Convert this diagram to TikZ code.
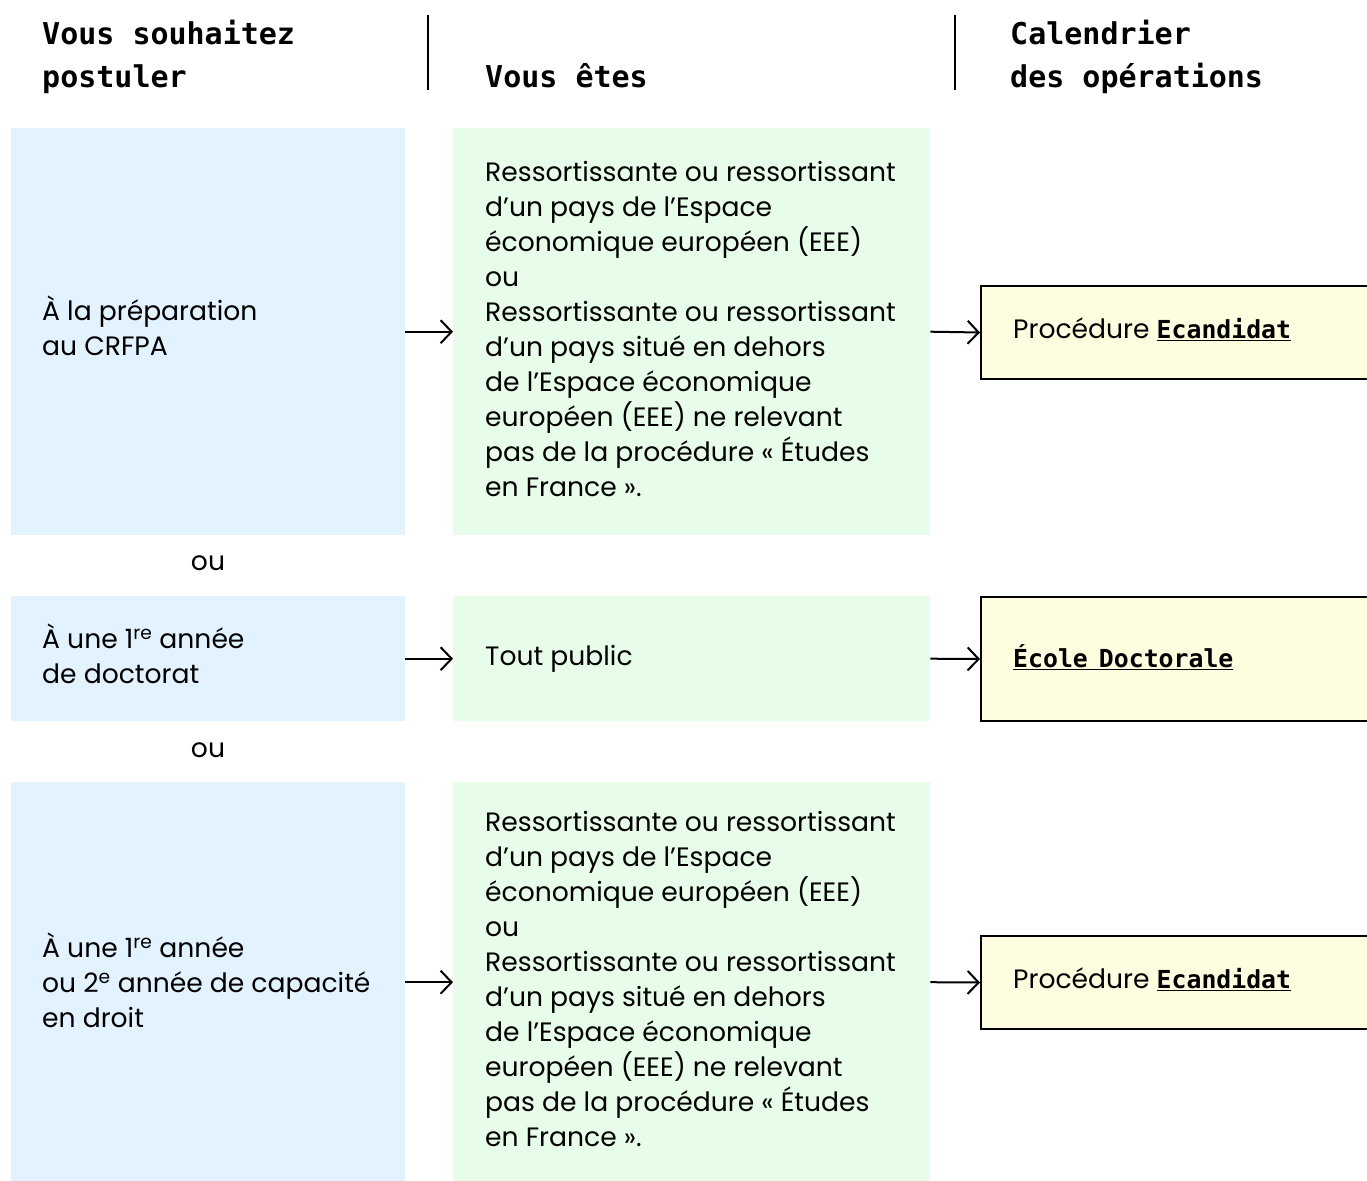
\documentclass[tikz,border=0pt]{standalone}
\usepackage{fontspec}
\setmainfont{Poppins}
\setmonofont{DejaVu Sans Mono}
\usetikzlibrary{arrows.meta}
\definecolor{cblue}{HTML}{E2F2FE}
\definecolor{cgreen}{HTML}{E8FDE9}
\definecolor{cyel}{HTML}{FFFDE0}
\tikzset{
  bluebox/.style={fill=cblue,draw=none,anchor=north west,inner sep=0pt,minimum width=394pt},
  greenbox/.style={fill=cgreen,draw=none,anchor=north west,inner sep=0pt,minimum width=477pt},
  yelbox/.style={fill=cyel,draw=black,line width=2pt,anchor=north west,inner sep=0pt,minimum width=420pt},
  txt/.style={anchor=west,align=left,inner sep=0pt,font=\fontsize{26.6}{35}\selectfont},
  hdr/.style={anchor=base west,inner sep=0pt,font=\fontsize{30}{43}\selectfont\ttfamily\bfseries},
  arr/.style={line width=2pt,-{Straight Barb[length=11pt,width=23pt,line width=2pt]}},
  sep/.style={line width=2pt}
}
\newcommand{\lk}[1]{{\ttfamily\bfseries\fontsize{24.8}{30}\selectfont\spaceskip=0.45em\underline{#1}}}
\begin{document}
\begin{tikzpicture}[x=1pt,y=-1pt]
\clip (0,0) rectangle (1367,1180);
\fill[white] (0,0) rectangle (1367,1180);
% headers
\node[hdr] (h1a) at (42,45) {Vous souhaitez};
\node[hdr] (h1b) at (42,88) {postuler};
\node[hdr] (h2) at (485,88) {Vous êtes};
\node[hdr] (h3a) at (1010,45) {Calendrier};
\node[hdr] (h3b) at (1010,88) {des opérations};
\draw[sep] (428,15) -- (428,90);
\draw[sep] (955,15) -- (955,90);
% row 1
\node[bluebox,minimum height=407pt] (b1) at (11,128) {};
\node[greenbox,minimum height=407pt] (g1) at (453,128) {};
\node[yelbox,minimum height=93pt] (y1) at (980,285) {};
\node[txt] (tb1) at ([xshift=31pt,yshift=6pt]b1.west) {À la préparation\\au CRFPA};
\node[txt] (tg1) at ([xshift=32pt,yshift=3pt]g1.west) {Ressortissante ou ressortissant\\d’un pays de l’Espace\\économique européen (EEE)\\ou\\Ressortissante ou ressortissant\\d’un pays situé en dehors\\de l’Espace économique\\européen (EEE) ne relevant\\pas de la procédure « Études\\en France ».};
\node[txt] (ty1) at ([xshift=33pt,yshift=3pt]y1.west) {Procédure \lk{Ecandidat}};
\draw[arr] (b1.east) -- (g1.west);
\draw[arr] (g1.east) -- (y1.west);
\node[txt,anchor=center] (ou1) at (208,563) {ou};
% row 2
\node[bluebox,minimum height=125pt] (b2) at (11,596) {};
\node[greenbox,minimum height=125pt] (g2) at (453,596) {};
\node[yelbox,minimum height=124pt] (y2) at (980,596) {};
\node[txt] (tb2) at ([xshift=31pt,yshift=5pt]b2.west) {À une 1\textsuperscript{re} année\\de doctorat};
\node[txt] (tg2) at ([xshift=32pt]g2.west) {Tout public};
\node[txt] (ty2) at ([xshift=33pt,yshift=2pt]y2.west) {\lk{École Doctorale}};
\draw[arr] (b2.east) -- (g2.west);
\draw[arr] (g2.east) -- (y2.west);
\node[txt,anchor=center] (ou2) at (208,750) {ou};
% row 3
\node[bluebox,minimum height=400pt] (b3) at (11,782) {};
\node[greenbox,minimum height=400pt] (g3) at (453,782) {};
\node[yelbox,minimum height=93pt] (y3) at (980,935) {};
\node[txt] (tb3) at ([xshift=31pt,yshift=2pt]b3.west) {À une 1\textsuperscript{re} année\\ou 2\textsuperscript{e} année de capacité\\en droit};
\node[txt] (tg3) at ([xshift=32pt,yshift=3pt]g3.west) {Ressortissante ou ressortissant\\d’un pays de l’Espace\\économique européen (EEE)\\ou\\Ressortissante ou ressortissant\\d’un pays situé en dehors\\de l’Espace économique\\européen (EEE) ne relevant\\pas de la procédure « Études\\en France ».};
\node[txt] (ty3) at ([xshift=33pt,yshift=3pt]y3.west) {Procédure \lk{Ecandidat}};
\draw[arr] (b3.east) -- (g3.west);
\draw[arr] (g3.east) -- (y3.west);
\end{tikzpicture}
\end{document}
